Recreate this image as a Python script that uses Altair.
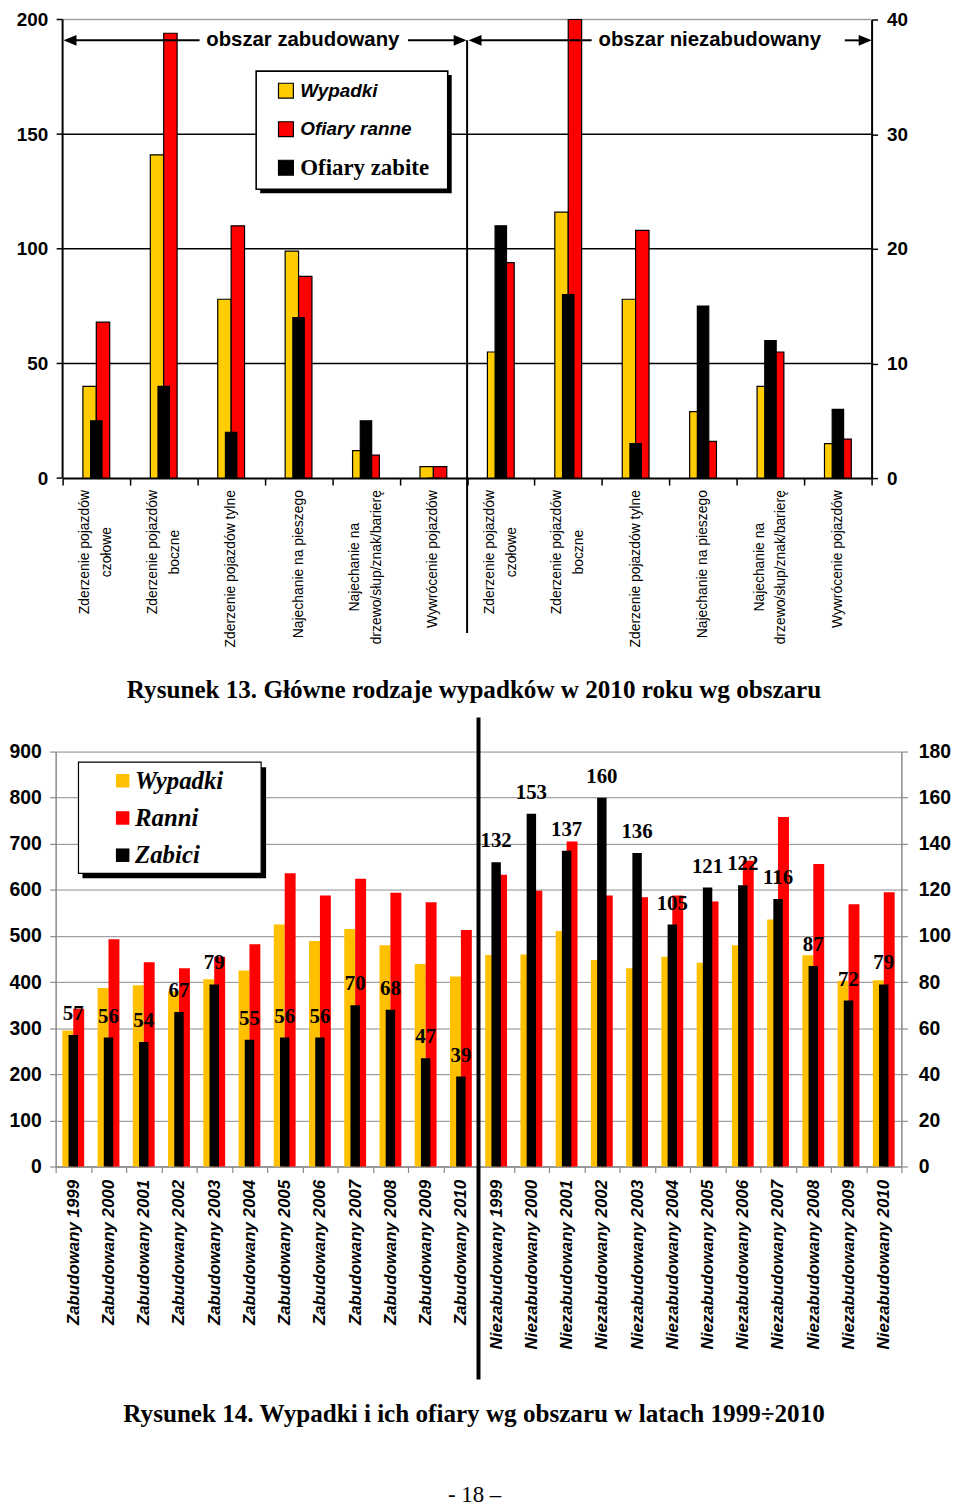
import altair as alt
import pandas as pd

# ---------------- Rysunek 13 (data) ----------------
top_labels = [
    "Zderzenie pojazdów\nczołowe",
    "Zderzenie pojazdów\nboczne",
    "Zderzenie pojazdów tylne",
    "Najechanie na pieszego",
    "Najechanie na\ndrzewo/słup/znak/barierę",
    "Wywrócenie pojazdów",
    "Zderzenie pojazdów\nczołowe",
    "Zderzenie pojazdów\nboczne",
    "Zderzenie pojazdów tylne",
    "Najechanie na pieszego",
    "Najechanie na\ndrzewo/słup/znak/barierę",
    "Wywrócenie pojazdów",
]
top_wypadki = [40, 141, 78, 99, 12, 5, 55, 116, 78, 29, 40, 15]      # left axis
top_ranne = [68, 194, 110, 88, 10, 5, 94, 200, 108, 16, 55, 17]      # left axis
top_zabite = [5, 8, 4, 14, 5, 0, 22, 16, 3, 15, 12, 6]               # right axis
top_left_ticks = [0, 50, 100, 150, 200]
top_right_ticks = [0, 10, 20, 30, 40]
top_series = ["Wypadki", "Ofiary ranne", "Ofiary zabite"]
top_area_titles = ["obszar zabudowany", "obszar niezabudowany"]
caption_13 = "Rysunek 13. Główne rodzaje wypadków w 2010 roku wg obszaru"

# ---------------- Rysunek 14 (data) ----------------
years = [1999, 2000, 2001, 2002, 2003, 2004, 2005, 2006, 2007, 2008, 2009, 2010]
bottom_labels = [f"Zabudowany {y}" for y in years] + [f"Niezabudowany {y}" for y in years]
bottom_wypadki = [295, 387, 393, 380, 406, 425, 525, 489, 515, 480, 439, 412,
                  459, 460, 511, 448, 430, 455, 442, 480, 536, 458, 403, 404]
bottom_ranni = [342, 493, 443, 430, 455, 482, 636, 588, 624, 594, 573, 513,
                633, 598, 705, 588, 584, 588, 575, 663, 758, 656, 569, 595]
bottom_zabici = [57, 56, 54, 67, 79, 55, 56, 56, 70, 68, 47, 39,
                 132, 153, 137, 160, 136, 105, 121, 122, 116, 87, 72, 79]
bottom_left_ticks = [0, 100, 200, 300, 400, 500, 600, 700, 800, 900]
bottom_right_ticks = [0, 20, 40, 60, 80, 100, 120, 140, 160, 180]
bottom_series = ["Wypadki", "Ranni", "Zabici"]
caption_14 = "Rysunek 14. Wypadki i ich ofiary wg obszaru w latach 1999÷2010"
page_number = "- 18 –"

# ---------------- styles / layout ----------------
SANS = "Liberation Sans"
SERIF = "Liberation Serif"
TOP_COLORS = ["#FFCC00", "#FF0000", "#000000"]
BOT_COLORS = ["#FFC000", "#FF0000", "#000000"]
GREY = "#8a8a8a"

X0 = 55.0      # page x of plot-area left (both panels)
T0 = 19.0      # page y of top plot-area top
TW, TH = 822, 462
TX0 = 7        # top data area starts 7px right of the shared origin
STEP_T = (TW - TX0) / 12
B0 = 752.3     # page y of bottom plot-area top
BW, BH = 852, 418

def tx(p): return p - X0
def ty(p): return p - T0
def bx(p): return p - X0
def by(p): return p - B0

ARIAL_W = {'a': .556, 'b': .556, 'c': .5, 'd': .556, 'e': .556, 'f': .278, 'g': .556,
           'h': .556, 'i': .222, 'j': .222, 'k': .5, 'l': .222, 'm': .833, 'n': .556,
           'o': .556, 'p': .556, 'q': .556, 'r': .333, 's': .5, 't': .278, 'u': .556,
           'v': .5, 'w': .722, 'x': .5, 'y': .5, 'z': .5, ' ': .278, '/': .278,
           'ó': .556, 'ł': .222, 'ę': .556, 'Z': .611, 'N': .722, 'W': .944}

def half_len(label, fs=14):
    return max(sum(ARIAL_W.get(c, .556) for c in line) for line in label.split("\n")) * fs / 2

one = pd.DataFrame({"o": [0]})

# ================= TOP CHART =================
keys = [f"k{i:02d}" for i in range(12)]
top_df = pd.DataFrame({"key": keys, "label": top_labels, "wyp": top_wypadki,
                       "ran": top_ranne, "zab": top_zabite})
top_df["half"] = [half_len(l) for l in top_labels]
tick_df = pd.DataFrame({"v": top_left_ticks})

x_top = alt.X("key:N", scale=alt.Scale(domain=keys, range=[TX0, TW], paddingInner=0, paddingOuter=0),
              axis=alt.Axis(title=None, labels=False, domainColor="black", domainWidth=2,
                            tickColor="black", tickWidth=1.5, tickSize=7, tickBand="extent", grid=False))
yl_scale = alt.Scale(domain=[0, 200], nice=False, zero=True)
yl_axis = alt.Axis(title=None, values=top_left_ticks, domain=False, ticks=False, tickSize=0, grid=False,
                   labelFont=SANS, labelFontSize=19, labelFontWeight="bold", labelColor="black", labelPadding=8)
yr_scale = alt.Scale(domain=[0, 40], nice=False, zero=True)
yr_axis = alt.Axis(title=None, orient="right", values=top_right_ticks, domainColor="black", domainWidth=2,
                   tickColor="black", tickWidth=1.5, tickSize=6, grid=False,
                   labelFont=SANS, labelFontSize=19, labelFontWeight="bold", labelColor="black", labelPadding=9)

grid_t = alt.Chart(tick_df).transform_filter("datum.v > 0").mark_rule(strokeWidth=1.5).encode(
    x=alt.value(TX0), x2=alt.value(TW),
    y=alt.Y("v:Q", scale=yl_scale, axis=yl_axis),
    color=alt.condition("datum.v >= 200", alt.value("#a0a0a0"), alt.value("black")))
laxis_t = alt.Chart(one).mark_rule(color="black", strokeWidth=2).encode(
    x=alt.value(TX0), y=alt.Y(datum=0, scale=yl_scale, axis=yl_axis), y2=alt.Y2(datum=200))
lticks_t = alt.Chart(tick_df).mark_rule(color="black", strokeWidth=1.5).encode(
    x=alt.value(TX0 - 6), x2=alt.value(TX0), y=alt.Y("v:Q", scale=yl_scale, axis=yl_axis))
yellow_t = alt.Chart(top_df).mark_bar(width=13.5, xOffset=-6.75, fill=TOP_COLORS[0], stroke="black",
                                      strokeWidth=1.2).encode(
    x=x_top, y=alt.Y("wyp:Q", scale=yl_scale, axis=yl_axis))
red_t = alt.Chart(top_df).mark_bar(width=13.5, xOffset=6.75, fill=TOP_COLORS[1], stroke="black",
                                   strokeWidth=1.2).encode(
    x=x_top, y=alt.Y("ran:Q", scale=yl_scale, axis=yl_axis))
top_left = alt.layer(grid_t, laxis_t, lticks_t, yellow_t, red_t)

black_t = alt.Chart(top_df).mark_bar(width=11.5, fill=TOP_COLORS[2], stroke="black", strokeWidth=1.2).encode(
    x=x_top, y=alt.Y("zab:Q", scale=yr_scale, axis=yr_axis))

lab_y_t = alt.Y("half:Q", scale=alt.Scale(domain=[0, 100], range=[TH + 12, TH + 112], nice=False, zero=False),
                axis=None)
xlab_t1 = alt.Chart(top_df).transform_filter("indexof(datum.label, '\\n') < 0").mark_text(
    angle=270, align="center", baseline="middle", font=SANS, fontSize=14, color="black").encode(
    x=x_top, y=lab_y_t, text="label:N")
xlab_t2 = alt.Chart(top_df).transform_filter("indexof(datum.label, '\\n') >= 0").transform_calculate(
    lines="split(datum.label, '\\n')").mark_text(
    angle=270, align="center", baseline="middle", font=SANS, fontSize=14, lineHeight=22, dy=-11,
    color="black").encode(x=x_top, y=lab_y_t, text="lines:N")

sep_t = alt.Chart(one).mark_rule(color="black", strokeWidth=2).encode(
    x=alt.value(TX0 + 6 * STEP_T), y=alt.value(ty(40)), y2=alt.value(ty(637)))

AY = ty(40)
arrow_lines = [
    alt.Chart(one).mark_rule(color="black", strokeWidth=2).encode(
        x=alt.value(tx(a)), x2=alt.value(tx(b)), y=alt.value(AY))
    for a, b in [(66, 200), (410, 466), (474, 595), (850, 874)]
]
LEFT_HEAD = "M-1,0L1,-0.82L1,0.82Z"
RIGHT_HEAD = "M1,0L-1,-0.82L-1,0.82Z"
arrow_heads = [
    alt.Chart(one).mark_point(shape=shp, size=169, filled=True, color="black", opacity=1).encode(
        x=alt.value(tx(cx)), y=alt.value(AY))
    for shp, cx in [(LEFT_HEAD, 63 + 6.5), (RIGHT_HEAD, 469 - 6.5), (LEFT_HEAD, 471 + 6.5), (RIGHT_HEAD, 877 - 6.5)]
]
area_texts = [
    alt.Chart(one).mark_text(align="center", baseline="middle", font=SANS, fontSize=20.5,
                             fontWeight="bold", color="black").encode(
        x=alt.value(tx(cx)), y=alt.value(AY), text=alt.value(t))
    for t, cx in zip(top_area_titles, [304, 714])
]

leg_df_t = pd.DataFrame({"name": top_series})
leg_y_t = alt.Y("name:N", scale=alt.Scale(type="point", domain=top_series, range=[ty(90.7), ty(168.3)], padding=0),
                axis=None)
leg_shadow_t = alt.Chart(one).mark_rect(fill="black").encode(
    x=alt.value(tx(261)), x2=alt.value(tx(454)), y=alt.value(ty(75)), y2=alt.value(ty(194)))
leg_box_t = alt.Chart(one).mark_rect(fill="white", stroke="black", strokeWidth=1.6).encode(
    x=alt.value(tx(257)), x2=alt.value(tx(450)), y=alt.value(ty(71)), y2=alt.value(ty(190)))
leg_sq_t = alt.Chart(leg_df_t).mark_square(size=225, filled=True, opacity=1, stroke="black", strokeWidth=1.2).encode(
    x=alt.value(tx(287)), y=leg_y_t,
    fill=alt.Fill("name:N", scale=alt.Scale(domain=top_series, range=TOP_COLORS), legend=None))
leg_txt_t1 = alt.Chart(leg_df_t).transform_filter(
    alt.FieldOneOfPredicate(field="name", oneOf=top_series[:2])).mark_text(
    align="left", baseline="middle", font=SANS, fontSize=19, fontWeight="bold", fontStyle="italic",
    color="black").encode(x=alt.value(tx(301.5)), y=leg_y_t, text="name:N")
leg_txt_t2 = alt.Chart(leg_df_t).transform_filter(
    alt.FieldOneOfPredicate(field="name", oneOf=top_series[2:])).mark_text(
    align="left", baseline="middle", font=SERIF, fontSize=23, fontWeight="bold",
    color="black").encode(x=alt.value(tx(301.5)), y=leg_y_t, text="name:N")

cap13 = alt.Chart(one).mark_text(align="center", baseline="alphabetic", font=SERIF, fontSize=25.3,
                                 fontWeight="bold", color="black").encode(
    x=alt.value(tx(476.5)), y=alt.value(ty(703)), text=alt.value(caption_13))

top = alt.layer(
    top_left, black_t, xlab_t1, xlab_t2, sep_t, *arrow_lines, *arrow_heads, *area_texts,
    leg_shadow_t, leg_box_t, leg_sq_t, leg_txt_t1, leg_txt_t2, cap13
).resolve_scale(y="independent").properties(width=TW, height=TH)

# ================= BOTTOM CHART =================
bot_df = pd.DataFrame({"label": bottom_labels, "wyp": bottom_wypadki, "ran": bottom_ranni, "zab": bottom_zabici})

x_bot = alt.X("label:N", scale=alt.Scale(domain=bottom_labels, paddingInner=0, paddingOuter=0),
              axis=alt.Axis(title=None, labelAngle=270, labelAlign="right", labelBaseline="middle",
                            labelFont=SANS, labelFontSize=17, labelFontWeight="bold", labelFontStyle="italic",
                            labelColor="black", labelPadding=7, labelOverlap=False, labelLimit=400,
                            domainColor=GREY, domainWidth=1.5, tickColor=GREY, tickWidth=1.2, tickSize=6,
                            tickBand="extent", grid=False))
ybl_scale = alt.Scale(domain=[0, 900], nice=False, zero=True)
ybl_axis = alt.Axis(title=None, values=bottom_left_ticks, domainColor=GREY, domainWidth=1.5,
                    tickColor=GREY, tickWidth=1.2, tickSize=6, grid=True, gridColor=GREY, gridWidth=1,
                    labelFont=SANS, labelFontSize=19.5, labelFontWeight="bold", labelColor="black",
                    labelPadding=8.5)
ybr_scale = alt.Scale(domain=[0, 180], nice=False, zero=True)
ybr_axis = alt.Axis(title=None, orient="right", values=bottom_right_ticks, domainColor=GREY, domainWidth=1.5,
                    tickColor=GREY, tickWidth=1.2, tickSize=6, grid=False,
                    labelFont=SANS, labelFontSize=19.5, labelFontWeight="bold", labelColor="black",
                    labelPadding=11)

yellow_b = alt.Chart(bot_df).mark_bar(width=11, xOffset=-5.5, fill=BOT_COLORS[0]).encode(
    x=x_bot, y=alt.Y("wyp:Q", scale=ybl_scale, axis=ybl_axis))
red_b = alt.Chart(bot_df).mark_bar(width=11, xOffset=5.5, fill=BOT_COLORS[1]).encode(
    x=x_bot, y=alt.Y("ran:Q", scale=ybl_scale, axis=ybl_axis))
bot_left = alt.layer(yellow_b, red_b)

black_b = alt.Chart(bot_df).mark_bar(width=9.5, fill=BOT_COLORS[2]).encode(
    x=x_bot, y=alt.Y("zab:Q", scale=ybr_scale, axis=ybr_axis))
lab_b = alt.Chart(bot_df).mark_text(dy=-15, align="center", baseline="alphabetic", font=SERIF, fontSize=21,
                                    fontWeight="bold", color="black").encode(
    x=x_bot, y=alt.Y("zab:Q", scale=ybr_scale, axis=ybr_axis), text="zab:Q")
bot_right = alt.layer(black_b, lab_b)

sep_b = alt.Chart(one).mark_rule(color="black", strokeWidth=4).encode(
    x=alt.value(BW / 2), y=alt.value(by(718)), y2=alt.value(by(1385)))

leg_df_b = pd.DataFrame({"name": bottom_series})
leg_y_b = alt.Y("name:N", scale=alt.Scale(type="point", domain=bottom_series, range=[by(781.7), by(856.7)],
                                          padding=0), axis=None)
leg_shadow_b = alt.Chart(one).mark_rect(fill="black").encode(
    x=alt.value(bx(82)), x2=alt.value(bx(267)), y=alt.value(by(768)), y2=alt.value(by(880)))
leg_box_b = alt.Chart(one).mark_rect(fill="white", stroke="black", strokeWidth=1.2).encode(
    x=alt.value(bx(78)), x2=alt.value(bx(262)), y=alt.value(by(763)), y2=alt.value(by(875)))
leg_sq_b = alt.Chart(leg_df_b).mark_square(size=185, filled=True, opacity=1).encode(
    x=alt.value(bx(122.5)), y=leg_y_b,
    fill=alt.Fill("name:N", scale=alt.Scale(domain=bottom_series, range=BOT_COLORS), legend=None))
leg_txt_b = alt.Chart(leg_df_b).mark_text(align="left", baseline="middle", font=SERIF, fontSize=25,
                                          fontWeight="bold", fontStyle="italic", color="black").encode(
    x=alt.value(bx(135)), y=leg_y_b, text="name:N")

cap14 = alt.Chart(one).mark_text(align="center", baseline="alphabetic", font=SERIF, fontSize=25.3,
                                 fontWeight="bold", color="black").encode(
    x=alt.value(bx(476.5)), y=alt.value(by(1428)), text=alt.value(caption_14))
pageno = alt.Chart(one).mark_text(align="center", baseline="alphabetic", font=SERIF, fontSize=23,
                                  color="black").encode(
    x=alt.value(bx(477)), y=alt.value(by(1508)), text=alt.value(page_number))

bottom = alt.layer(
    bot_left, bot_right, sep_b, leg_shadow_b, leg_box_b, leg_sq_b, leg_txt_b, cap14, pageno
).resolve_scale(y="independent").properties(width=BW, height=BH)

chart = alt.vconcat(top, bottom, spacing=10.5).resolve_scale(
    fill="independent").properties(padding={"top": -4, "left": 0, "right": 0, "bottom": 0}).configure_view(
    stroke="transparent")

chart.save("out.html", embed_options={"renderer": "svg", "actions": False})
